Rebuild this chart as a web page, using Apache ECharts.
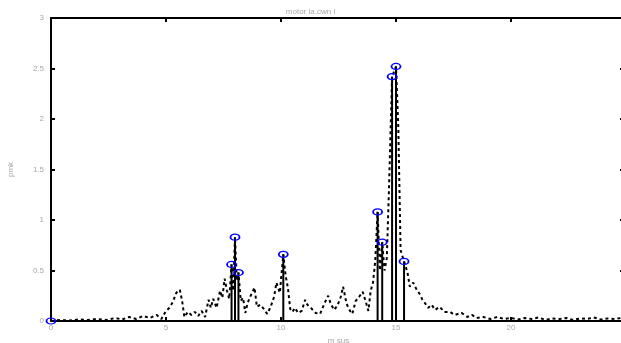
<!DOCTYPE html>
<html>
<head>
<meta charset="utf-8">
<script src="https://cdn.jsdelivr.net/npm/echarts@6/dist/echarts.min.js"></script>
<style>
  html, body { margin: 0; padding: 0; background: #fff; }
  #main { width: 621px; height: 343px; }
</style>
</head>
<body>
<div id="main"></div>
<script type="text/javascript">
// spectrum (dotted line)
var specX = [0, 0.4, 0.8, 1.2, 1.6, 2.0, 2.4, 2.8, 3.1, 3.4, 3.7, 4.0, 4.3, 4.6, 4.8,
  5.0, 5.15, 5.3, 5.45, 5.6, 5.7, 5.8, 5.95, 6.1, 6.25, 6.4, 6.55, 6.7, 6.85, 6.95,
  7.05, 7.2, 7.35, 7.45, 7.55, 7.65, 7.75, 7.85, 7.92, 8.0, 8.08, 8.15, 8.25, 8.35, 8.45,
  8.55, 8.7, 8.85, 8.95, 9.1, 9.25, 9.4, 9.55, 9.7, 9.8, 9.95, 10.1, 10.2, 10.3, 10.4,
  10.5, 10.6, 10.75, 10.9, 11.05, 11.15, 11.3, 11.5, 11.7, 11.9, 12.05, 12.15, 12.3, 12.45,
  12.6, 12.7, 12.85, 13.0, 13.1, 13.25, 13.4, 13.55, 13.7, 13.8, 13.9, 14.0, 14.1, 14.2,
  14.3, 14.4, 14.5, 14.6, 14.7, 14.83, 15.0, 15.1, 15.2, 15.35, 15.5, 15.6, 15.75, 15.9,
  16.05, 16.15, 16.25, 16.4, 16.55, 16.7, 16.9, 17.1, 17.35, 17.55, 17.85, 18.1, 18.3,
  18.5, 18.8, 19.1, 19.4, 19.7, 20.0, 20.3, 20.6, 20.9, 21.2, 21.5, 21.8, 22.1, 22.4,
  22.7, 23.0, 23.3, 23.6, 23.9, 24.2, 24.5, 24.8, 25];
var specY = [0, 0.01, 0.005, 0.015, 0.01, 0.02, 0.01, 0.03, 0.015, 0.04, 0.02, 0.05, 0.03, 0.06, 0.02,
  0.1, 0.13, 0.19, 0.28, 0.31, 0.2, 0.04, 0.09, 0.06, 0.09, 0.05, 0.1, 0.04, 0.21, 0.13,
  0.22, 0.13, 0.3, 0.23, 0.42, 0.3, 0.22, 0.56, 0.3, 0.83, 0.4, 0.48, 0.2, 0.23, 0.08,
  0.18, 0.26, 0.33, 0.14, 0.16, 0.12, 0.07, 0.14, 0.24, 0.38, 0.28, 0.66, 0.45, 0.33, 0.12,
  0.09, 0.13, 0.08, 0.1, 0.21, 0.16, 0.13, 0.08, 0.07, 0.18, 0.25, 0.18, 0.11, 0.15,
  0.24, 0.34, 0.17, 0.1, 0.07, 0.2, 0.24, 0.29, 0.18, 0.1, 0.3, 0.38, 0.6, 1.08,
  0.5, 0.78, 0.5, 0.62, 1.35, 2.42, 2.52, 1.92, 0.7, 0.59, 0.48, 0.34, 0.38, 0.31,
  0.26, 0.21, 0.18, 0.13, 0.16, 0.11, 0.14, 0.09, 0.09, 0.06, 0.08, 0.04, 0.06,
  0.03, 0.04, 0.02, 0.04, 0.02, 0.03, 0.015, 0.03, 0.02, 0.035, 0.01, 0.025, 0.02, 0.03,
  0.01, 0.025, 0.02, 0.035, 0.015, 0.025, 0.02, 0.03, 0.02];

// detected peaks (stems with blue circles)
var peakX = [0, 7.85, 8.0, 8.15, 10.1, 14.2, 14.4, 14.83, 15.0, 15.35];
var peakY = [0, 0.56, 0.83, 0.48, 0.66, 1.08, 0.78, 2.42, 2.52, 0.59];

var titleText = 'motor la.cwn i';
var xName = 'm sus';
var yName = 'pmk';

var specData = specX.map(function (x, i) { return [x, specY[i]]; });
var peakData = peakX.map(function (x, i) { return [x, peakY[i]]; });

var myChart = echarts.init(document.getElementById('main'));
var labelStyle = { color: '#a8a8a8', fontSize: 8, fontFamily: 'Liberation Sans' };
var lineStyle = { color: '#000', width: 2 };

var option = {
    animation: false,
    backgroundColor: '#fff',
    title: {
        text: titleText,
        left: 'center',
        top: 3,
        textStyle: { color: '#a8a8a8', fontSize: 8, fontWeight: 'normal', fontFamily: 'Liberation Sans' }
    },
    grid: { left: 51, right: -5, top: 18, bottom: 22, outerBoundsMode: 'none', containLabel: false },
    xAxis: [
        {
            type: 'value', min: 0, max: 25, interval: 5,
            name: xName, nameLocation: 'middle', nameGap: 14,
            nameTextStyle: labelStyle,
            axisLine: { onZero: false, lineStyle: lineStyle },
            axisTick: { inside: true, length: 4, lineStyle: lineStyle },
            axisLabel: Object.assign({ margin: 3, showMaxLabel: true, hideOverlap: false }, labelStyle),
            splitLine: { show: false }
        },
        {
            type: 'value', min: 0, max: 25, interval: 5, position: 'top',
            axisLine: { onZero: false, lineStyle: lineStyle },
            axisTick: { inside: true, length: 4, lineStyle: lineStyle },
            axisLabel: { show: false },
            splitLine: { show: false }
        }
    ],
    yAxis: [
        {
            type: 'value', min: 0, max: 3, interval: 0.5,
            name: yName, nameLocation: 'middle', nameGap: 36,
            nameTextStyle: labelStyle,
            axisLine: { onZero: false, lineStyle: lineStyle },
            axisTick: { inside: true, length: 4, lineStyle: lineStyle },
            axisLabel: Object.assign({ margin: 7 }, labelStyle),
            splitLine: { show: false }
        },
        {
            type: 'value', min: 0, max: 3, interval: 0.5, position: 'right',
            axisLine: { onZero: false, lineStyle: lineStyle },
            axisTick: { inside: true, length: 6, lineStyle: lineStyle },
            axisLabel: { show: false },
            splitLine: { show: false }
        }
    ],
    series: [
        {
            type: 'line',
            data: specData,
            showSymbol: false,
            lineStyle: { color: '#000', width: 2, type: [3, 3] },
            z: 2
        },
        {
            // stems
            type: 'custom',
            data: peakData,
            renderItem: function (params, api) {
                var top = api.coord([api.value(0), api.value(1)]);
                var base = api.coord([api.value(0), 0]);
                return {
                    type: 'line',
                    shape: { x1: top[0], y1: top[1], x2: base[0], y2: base[1] },
                    style: { stroke: '#000', lineWidth: 2 }
                };
            },
            z: 3
        },
        {
            type: 'scatter',
            data: peakData,
            symbol: 'circle',
            symbolSize: [9, 6],
            itemStyle: { color: 'rgba(255,255,255,0)', borderColor: '#0000ff', borderWidth: 1.5, opacity: 1 },
            z: 4
        }
    ]
};

myChart.setOption(option);
</script>
</body>
</html>
